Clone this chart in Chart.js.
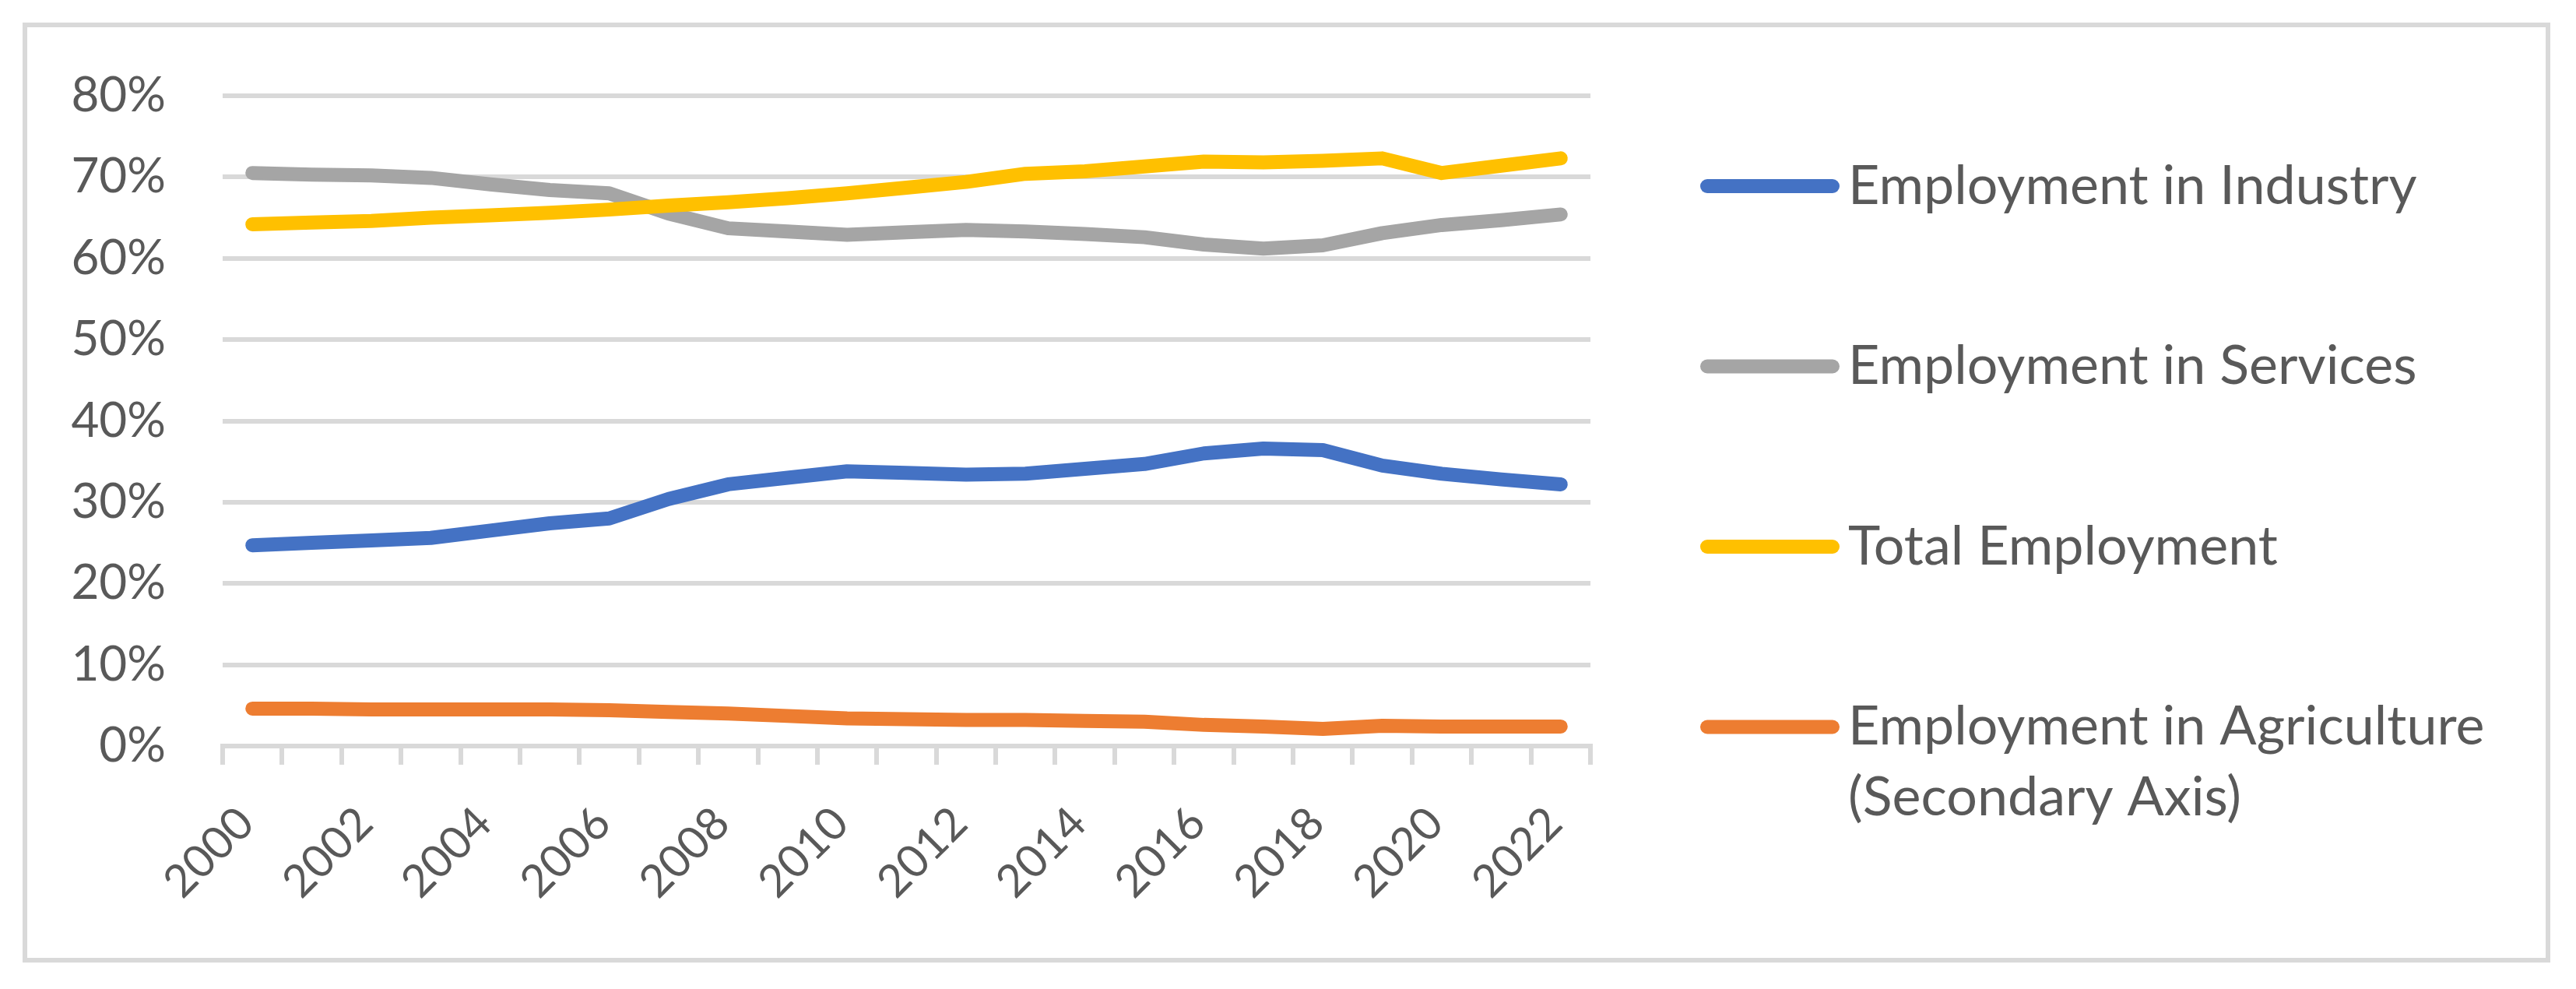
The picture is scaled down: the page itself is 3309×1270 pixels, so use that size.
<!DOCTYPE html>
<html>
<head>
<meta charset="utf-8">
<script src="https://cdn.jsdelivr.net/npm/chart.js@4"></script>
<style>
  html, body { margin: 0; padding: 0; background: #fff; }
  body { width: 3309px; height: 1270px; position: relative; overflow: hidden; }
  #frame { position: absolute; left: 29px; top: 29px; width: 3247px; height: 1207px; border: 6px solid #d9d9d9; box-sizing: border-box; }
  #chart { position: absolute; left: 0; top: 0; }
</style>
</head>
<body>
<div id="frame"></div>
<canvas id="chart" width="3309" height="1270"></canvas>
<script>
// années et séries (en %)
const years = ['2000', '2001', '2002', '2003', '2004', '2005', '2006', '2007', '2008', '2009', '2010', '2011',
  '2012', '2013', '2014', '2015', '2016', '2017', '2018', '2019', '2020', '2021', '2022'];
const industry = [24.7, 25.0, 25.3, 25.6, 26.5, 27.4, 28.0, 30.4, 32.2, 33.0, 33.8, 33.6,
  33.4, 33.5, 34.1, 34.7, 36.0, 36.6, 36.4, 34.5, 33.5, 32.8, 32.2];
const services = [70.5, 70.3, 70.2, 69.9, 69.1, 68.4, 68.0, 65.5, 63.7, 63.3, 62.9, 63.2,
  63.5, 63.3, 63.0, 62.6, 61.7, 61.2, 61.6, 63.1, 64.1, 64.7, 65.4];
const total = [64.2, 64.4, 64.6, 65.0, 65.3, 65.6, 66.0, 66.5, 66.9, 67.4, 68.0, 68.7,
  69.4, 70.4, 70.7, 71.3, 71.9, 71.8, 72.0, 72.3, 70.5, 71.4, 72.3];
const agriculture = [4.6, 4.6, 4.5, 4.5, 4.5, 4.5, 4.4, 4.2, 4.0, 3.7, 3.4, 3.3,
  3.2, 3.2, 3.1, 3.0, 2.6, 2.4, 2.1, 2.5, 2.4, 2.4, 2.4];
const yTicks = [0, 10, 20, 30, 40, 50, 60, 70, 80];

const seriesNames = ['Employment in Industry', 'Employment in Services', 'Total Employment',
  ['Employment in Agriculture', '(Secondary Axis)']];
const seriesColors = ['#4472C4', '#A5A5A5', '#FFC000', '#ED7D31'];

const TEXT = '#595959';
const GRID = '#d9d9d9';
const FONT_Y = { family: 'Lato', size: 62 };
const FONT_X = { family: 'Lato', size: 58 };
const FONT_LEGEND = { family: 'Lato', size: 70 };

// légende à droite, dessinée à la main (ligne épaisse + texte)
const sideLegend = {
  id: 'sideLegend',
  afterDraw(chart) {
    const ctx = chart.ctx;
    const area = chart.chartArea;
    const x0 = area.right + 150;
    const x1 = x0 + 161;
    ctx.save();
    ctx.font = FONT_LEGEND.size + 'px ' + FONT_LEGEND.family;
    ctx.textBaseline = 'middle';
    ctx.textAlign = 'left';
    chart.data.datasets.forEach((ds, i) => {
      const y = area.top + 116 + i * 231.5;
      ctx.strokeStyle = ds.borderColor;
      ctx.lineWidth = 18;
      ctx.lineCap = 'round';
      ctx.beginPath();
      ctx.moveTo(x0, y);
      ctx.lineTo(x1, y);
      ctx.stroke();
      ctx.fillStyle = TEXT;
      const lines = [].concat(seriesNames[i]);
      lines.forEach((t, j) => ctx.fillText(t, x1 + 20, y + j * 91));
    });
    ctx.restore();
  }
};

function draw() {
  const ctx = document.getElementById('chart').getContext('2d');
  new Chart(ctx, {
    type: 'line',
    data: {
      labels: years,
      datasets: [
        { label: 'Employment in Industry', data: industry, borderColor: seriesColors[0], yAxisID: 'y', order: 3 },
        { label: 'Employment in Services', data: services, borderColor: seriesColors[1], yAxisID: 'y', order: 2 },
        { label: 'Total Employment', data: total, borderColor: seriesColors[2], yAxisID: 'y', order: 1 },
        { label: 'Employment in Agriculture (Secondary Axis)', data: agriculture, borderColor: seriesColors[3], yAxisID: 'y2', order: 0 }
      ]
    },
    options: {
      responsive: false,
      animation: false,
      layout: { padding: { left: 0, top: 123, right: 1266, bottom: 0 } },
      elements: {
        point: { radius: 0, hoverRadius: 0 },
        line: { borderWidth: 18, borderCapStyle: 'round', borderJoinStyle: 'round', tension: 0, fill: false }
      },
      plugins: { legend: { display: false }, tooltip: { enabled: false } },
      scales: {
        x: {
          offset: true,
          grid: { offset: true, drawOnChartArea: false, color: GRID, lineWidth: 6, tickLength: 24 },
          border: { color: GRID, width: 6 },
          ticks: {
            autoSkip: false, minRotation: 45, maxRotation: 45, padding: 41, labelOffset: -8,
            color: TEXT, font: FONT_X,
            callback: (v, i) => (i % 2 === 0 ? years[i] : '')
          },
          afterFit: (s) => { s.height = 312; }
        },
        y: {
          min: 0, max: 80,
          afterBuildTicks: (s) => { s.ticks = yTicks.map((v) => ({ value: v })); },
          grid: { color: GRID, lineWidth: 6, drawTicks: false },
          border: { display: false },
          ticks: { padding: 73, color: TEXT, font: FONT_Y, callback: (v) => v + '%' },
          afterFit: (s) => { s.width = 286; }
        },
        y2: { display: false, min: 0, max: 80 }
      }
    },
    plugins: [sideLegend]
  });
}

document.fonts.load('62px Lato').then(draw, draw);
</script>
</body>
</html>
